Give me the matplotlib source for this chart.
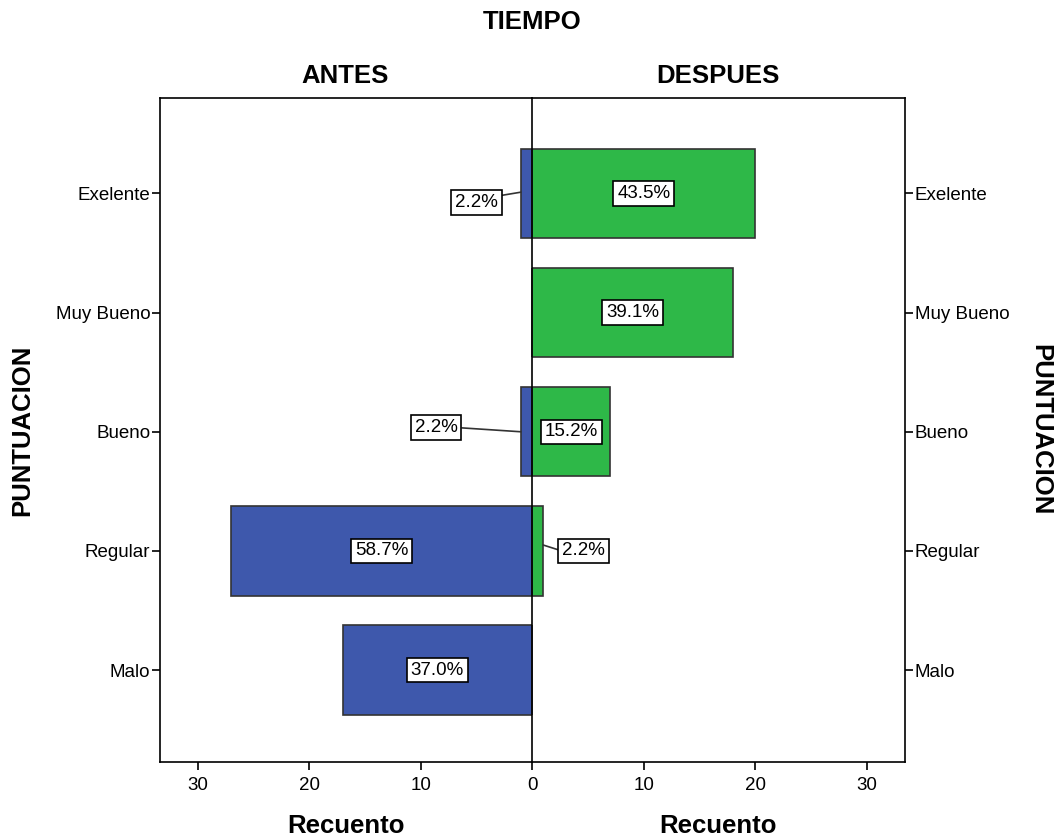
import matplotlib
matplotlib.use("Agg")
import matplotlib.pyplot as plt

plt.rcParams['font.family'] = ['Liberation Sans', 'DejaVu Sans']

# categorias y recuentos
categorias = ["Exelente", "Muy Bueno", "Bueno", "Regular", "Malo"]
antes = [1, 0, 1, 27, 17]
despues = [20, 18, 7, 1, 0]

# etiquetas desplazadas para barras pequeñas: (x, y, relpos de la linea, y del punto)
antes_offset = {0: (5.0, 0.075, (1.0, 0.87), -0.01), 2: (8.6, 1.965, (1.0, 0.5), 2.0)}
despues_offset = {3: (4.6, 3.0, (0.0, 0.5), 2.95)}

azul = "#3E58AC"
verde = "#2EB848"
xmax = 33.4

fig = plt.figure(figsize=(10.59, 8.39), dpi=100)
ax_l = fig.add_axes([0.1511, 0.0918, 0.3513, 0.7914])
ax_r = fig.add_axes([0.5024, 0.0918, 0.3522, 0.7914])

y = list(range(len(categorias)))
box = dict(boxstyle="square,pad=0.2", fc="white", ec="black", lw=1.2)


def etiquetas(ax, valores, offsets):
    total = sum(valores)
    for i, v in enumerate(valores):
        if v == 0:
            continue
        txt = f"{100 * v / total:.1f}%"
        if i in offsets:
            tx, ty, rp, py = offsets[i]
            ax.annotate(txt, xy=(v, py), xytext=(tx, ty), ha="center", va="center",
                        fontsize=13.5, bbox=box,
                        arrowprops=dict(arrowstyle="-", color="#333333", lw=1.2,
                                        relpos=rp, shrinkA=0, shrinkB=0))
        else:
            ax.text(v / 2, i, txt, ha="center", va="center", fontsize=13.5, bbox=box)


ax_l.barh(y, antes, height=0.75, color=azul, edgecolor="#333333", linewidth=1.2)
ax_r.barh(y, despues, height=0.75, color=verde, edgecolor="#333333", linewidth=1.2)
etiquetas(ax_l, antes, antes_offset)
etiquetas(ax_r, despues, despues_offset)

for ax in (ax_l, ax_r):
    ax.set_ylim(4.77, -0.8)
    ax.set_yticks(y)
    ax.tick_params(axis="both", direction="out", length=6, width=1.2, labelsize=13.5,
                   colors="black", pad=1)
    for s in ax.spines.values():
        s.set_linewidth(1.2)
        s.set_color("black")

ax_l.set_xlim(xmax, 0)
ax_l.set_xticks([30, 20, 10, 0])
ax_l.set_yticklabels(categorias)
ax_l.spines["right"].set_visible(False)

ax_r.set_xlim(0, xmax)
ax_r.set_xticks([10, 20, 30])
ax_r.yaxis.tick_right()
ax_r.set_yticklabels(categorias)

for ax in (ax_l, ax_r):
    ax.tick_params(axis="x", pad=5)

kw = dict(ha="center", va="center", fontsize=18.5, fontweight="bold")
fig.text(532 / 1059, 1 - 22 / 839, "TIEMPO", **kw)
fig.text(345 / 1059, 1 - 76 / 839, "ANTES", **kw)
fig.text(718 / 1059, 1 - 76 / 839, "DESPUES", **kw)
fig.text(346 / 1059, 1 - 826 / 839, "Recuento", **kw)
fig.text(718 / 1059, 1 - 826 / 839, "Recuento", **kw)
fig.text(22 / 1059, 1 - 430 / 839, "PUNTUACION", rotation=90, **kw)
fig.text(1040 / 1059, 1 - 430 / 839, "PUNTUACION", rotation=270, **kw)

fig.savefig("out.png", dpi=100)
